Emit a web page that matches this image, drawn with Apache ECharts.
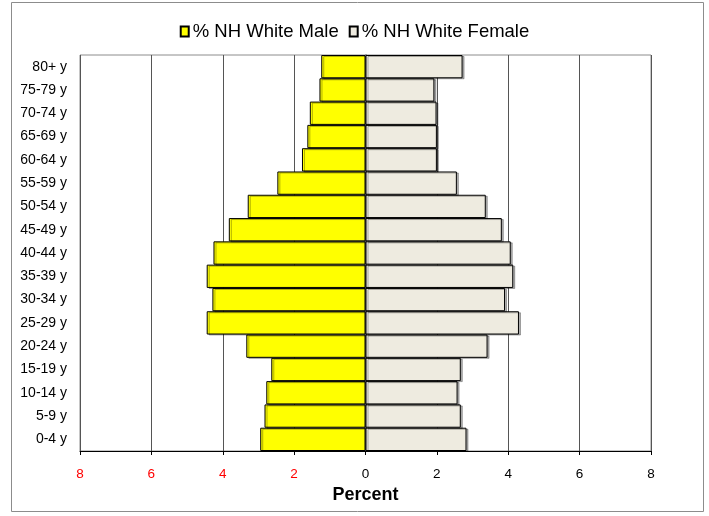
<!DOCTYPE html>
<html>
<head>
<meta charset="utf-8">
<script src="https://cdn.jsdelivr.net/npm/echarts@6/dist/echarts.min.js"></script>
<style>
  html, body { margin: 0; padding: 0; background: #fff; }
  #chart { width: 709px; height: 516px; }
</style>
</head>
<body>
<div id="chart"></div>
<script>
// Age groups, bottom to top
const ageGroups = ['0-4 y', '5-9 y', '10-14 y', '15-19 y', '20-24 y', '25-29 y', '30-34 y',
  '35-39 y', '40-44 y', '45-49 y', '50-54 y', '55-59 y', '60-64 y', '65-69 y', '70-74 y',
  '75-79 y', '80+ y'];

// Percent of population in each age group
const malePct = [2.95, 2.83, 2.78, 2.64, 3.34, 4.45, 4.29, 4.45, 4.26, 3.83, 3.30, 2.47,
  1.78, 1.63, 1.56, 1.29, 1.24];
const femalePct = [2.83, 2.67, 2.58, 2.67, 3.42, 4.30, 3.91, 4.14, 4.07, 3.82, 3.37, 2.56,
  2.00, 2.00, 1.99, 1.93, 2.72];

const seriesNames = ['% NH White Male', '% NH White Female'];

const chart = echarts.init(document.getElementById('chart'), null, { renderer: 'canvas' });
const font = 'Arial, "Liberation Sans", sans-serif';

const barStyle = (color) => ({
  color: color,
  borderColor: '#000',
  borderWidth: 1,
  shadowColor: 'rgba(0,0,0,0.3)',
  shadowBlur: 0,
  shadowOffsetX: 2,
  shadowOffsetY: 1
});

chart.setOption({
  animation: false,
  backgroundColor: '#fff',
  textStyle: { fontFamily: font },
  graphic: [{
    type: 'rect',
    shape: { x: 11.5, y: 2.5, width: 692, height: 509 },
    style: { fill: 'none', stroke: '#8c8c8c', lineWidth: 1 },
    z: -1
  }],
  legend: {
    data: seriesNames,
    top: 17,
    left: 'center',
    itemWidth: 8,
    itemHeight: 10,
    itemGap: 10,
    icon: 'rect',
    textStyle: { fontSize: 18.5, color: '#000', fontFamily: font, padding: [0, 0, 0, -1] }
  },
  grid: {
    left: 80, right: 58, top: 55, bottom: 65,
    show: true, borderColor: '#8c8c8c', borderWidth: 1
  },
  xAxis: {
    type: 'value',
    min: -8, max: 8, interval: 2,
    name: 'Percent',
    nameLocation: 'middle',
    nameGap: 34,
    nameTextStyle: { fontSize: 18, fontWeight: 'bold', color: '#000', fontFamily: font },
    axisLine: { show: true, onZero: false, lineStyle: { color: '#000', width: 1 } },
    axisTick: { show: true, length: 4, lineStyle: { color: '#000' } },
    axisLabel: {
      fontSize: 13.5,
      margin: 16,
      fontFamily: font,
      formatter: (v) => String(Math.abs(v)),
      color: (v) => (Number(v) < 0 ? '#ff0000' : '#000')
    },
    splitLine: { show: true, lineStyle: { color: '#555', width: 1 } }
  },
  yAxis: {
    type: 'category',
    data: ageGroups,
    axisLine: { show: true, lineStyle: { color: '#8c8c8c', width: 2 } },
    axisTick: { show: false },
    axisLabel: { fontSize: 14, color: '#000', margin: 13, fontFamily: font },
    splitLine: { show: false }
  },
  series: [
    {
      name: seriesNames[0],
      type: 'bar',
      barCategoryGap: 0,
      barGap: '-100%',
      itemStyle: barStyle('#ffff00'),
      data: malePct.map(v => -v)
    },
    {
      name: seriesNames[1],
      type: 'bar',
      barCategoryGap: 0,
      barGap: '-100%',
      itemStyle: barStyle('#eeebe0'),
      data: femalePct
    }
  ]
});
</script>
</body>
</html>
